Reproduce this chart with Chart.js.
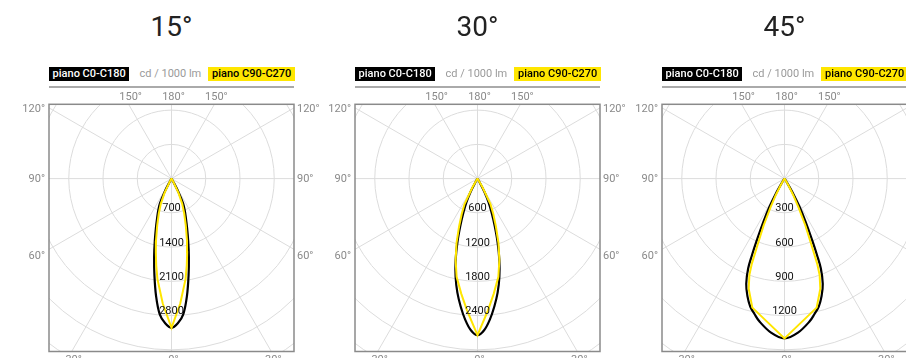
<!DOCTYPE html>
<html><head><meta charset="utf-8">
<script src="https://cdn.jsdelivr.net/npm/chart.js@4.4.1/dist/chart.umd.min.js"></script>
<style>
html,body{margin:0;padding:0;background:#fff;}
body{width:906px;height:358px;overflow:hidden;position:relative;font-family:Roboto,"DejaVu Sans",sans-serif;}
.cell{position:absolute;top:0;width:340px;height:358px;}
.cell canvas{position:absolute;left:0;top:0;}
.title{position:absolute;top:9px;left:49px;width:245px;text-align:center;font-size:28px;line-height:36px;color:#222;}
.hdr{position:absolute;top:66.7px;height:14.5px;line-height:14.5px;font-size:11px;font-weight:500;white-space:nowrap;}
.hb{left:49px;background:#000;color:#fff;padding:0 3.6px;}
.hu{left:139.5px;color:#9a9a9a;font-weight:400;}
.hy{left:208px;background:#ffe600;color:#000;padding:0 4px;}
.rule{position:absolute;left:49px;width:245px;top:86px;height:1.5px;background:#aaa;}
</style></head>
<body>
<script>
// ---- data ----
const titles = ['15°', '30°', '45°'];
const unitLabel = 'cd / 1000 lm';
const planeC0 = 'piano C0-C180';
const planeC90 = 'piano C90-C270';
const ringSteps = [700, 600, 300];
const ringTicks15 = [700, 1400, 2100, 2800];
const ringTicks30 = [600, 1200, 1800, 2400];
const ringTicks45 = [300, 600, 900, 1200];
const angleTicks = [0, 30, 60, 90, 120, 150, 180];

// 15°
const gammaC0_15 = [0, 2.5, 5, 7.5, 10, 12.5, 15, 17.5, 20, 22.5, 25, 27.5, 30, 35];
const cdC0_15    = [3050, 2960, 2780, 2420, 2010, 1640, 1320, 1060, 860, 710, 560, 300, 60, 0];
const gammaC90_15 = [0, 4, 8, 10, 12, 14, 17, 20, 23, 26, 29, 32];
const cdC90_15    = [3050, 2560, 2070, 1800, 1540, 1310, 1000, 760, 560, 330, 80, 0];
// 30°
const gammaC0_30 = [0, 2.5, 5, 7.5, 10, 12.5, 15, 17.5, 20, 22.5, 25, 27.5, 30, 33];
const cdC0_30    = [2745, 2660, 2480, 2260, 2030, 1770, 1480, 1170, 880, 650, 460, 260, 60, 0];
const gammaC90_30 = [0, 4.5, 8, 12, 15, 18, 21, 24, 27, 30, 33];
const cdC90_30    = [2745, 2320, 2040, 1760, 1480, 1190, 900, 680, 500, 170, 0];
// 45°
const gammaC0_45 = [0, 5, 10, 12.5, 15, 17.5, 20, 22, 23, 24, 26, 28, 30, 33, 36];
const cdC0_45    = [1400, 1355, 1270, 1215, 1160, 1080, 980, 850, 730, 610, 420, 280, 150, 30, 0];
const gammaC90_45 = [0, 14, 18, 20, 21, 22, 24, 26, 28, 30, 33];
const cdC90_45    = [1400, 1165, 1015, 900, 800, 640, 450, 280, 160, 70, 0];

const panels = [
  {title: titles[0], step: ringSteps[0], ticks: ringTicks15, g0: gammaC0_15, c0: cdC0_15, g90: gammaC90_15, c90: cdC90_15},
  {title: titles[1], step: ringSteps[1], ticks: ringTicks30, g0: gammaC0_30, c0: cdC0_30, g90: gammaC90_30, c90: cdC90_30},
  {title: titles[2], step: ringSteps[2], ticks: ringTicks45, g0: gammaC0_45, c0: cdC0_45, g90: gammaC90_45, c90: cdC90_45}
];

// polar (gamma from nadir, intensity) -> symmetric closed curve in x/y
function curve(gammas, cds) {
  const pts = [];
  const rad = d => d * Math.PI / 180;
  for (let i = gammas.length - 1; i >= 0; i--) pts.push({x: -cds[i] * Math.sin(rad(gammas[i])), y: -cds[i] * Math.cos(rad(gammas[i]))});
  for (let i = 1; i < gammas.length; i++) pts.push({x: cds[i] * Math.sin(rad(gammas[i])), y: -cds[i] * Math.cos(rad(gammas[i]))});
  return pts;
}

const polarGrid = {
  id: 'polarGrid',
  beforeDatasetsDraw(chart, args, opts) {
    const {ctx, chartArea: a, scales: {x, y}} = chart;
    const cx = x.getPixelForValue(0), cy = y.getPixelForValue(0);
    const R = x.getPixelForValue(opts.step) - cx;
    ctx.save();
    ctx.beginPath(); ctx.rect(a.left, a.top, a.right - a.left, a.bottom - a.top); ctx.clip();
    ctx.strokeStyle = '#dcdcdc'; ctx.lineWidth = 1;
    for (let k = 1; k <= 7; k++) { ctx.beginPath(); ctx.arc(cx, cy, k * R, 0, Math.PI * 2); ctx.stroke(); }
    for (let d = 0; d < 360; d += 30) {
      const t = d * Math.PI / 180;
      ctx.beginPath(); ctx.moveTo(cx, cy); ctx.lineTo(cx + Math.sin(t) * 1000, cy + Math.cos(t) * 1000); ctx.stroke();
    }
    ctx.restore();
  },
  afterDatasetsDraw(chart, args, opts) {
    const {ctx, chartArea: a, scales: {x, y}} = chart;
    const cx = x.getPixelForValue(0), cy = y.getPixelForValue(0);
    ctx.save();
    ctx.font = '11px Roboto';
    ctx.fillStyle = '#111';
    ctx.textAlign = 'center';
    ctx.textBaseline = 'alphabetic';
    opts.ticks.forEach(v => {
      ctx.fillText(String(v), cx, y.getPixelForValue(-v) - 1.5);
    });
    ctx.strokeStyle = '#8a8a8a'; ctx.lineWidth = 1.5;
    ctx.strokeRect(a.left, a.top, a.right - a.left, a.bottom - a.top);
    ctx.fillStyle = '#8a8a8a';
    ctx.font = '11px Roboto';
    angleTicks.forEach(deg => {
      const t = deg * Math.PI / 180;
      const sides = (deg === 0 || deg === 180) ? [1] : [-1, 1];
      sides.forEach(s => {
        const sn = Math.sin(t), cs = Math.cos(t);
        const tx = sn > 1e-6 ? (s > 0 ? a.right - cx : cx - a.left) / sn : Infinity;
        const ty = cs > 1e-6 ? (a.bottom - cy) / cs : (cs < -1e-6 ? (a.top - cy) / cs : Infinity);
        const label = deg + '°';
        if (tx < ty) {
          const py = cy + tx * cs + (deg < 90 ? 7 : 1);
          ctx.textBaseline = 'middle';
          if (s < 0) { ctx.textAlign = 'right'; ctx.fillText(label, a.left - 4, py); }
          else { ctx.textAlign = 'left'; ctx.fillText(label, a.right + 3, py); }
        } else {
          const px = cx + s * ty * sn + 2;
          ctx.textAlign = 'center';
          if (cs < 0) { ctx.textBaseline = 'middle'; ctx.fillText(label, px, a.top - 7.5); }
          else { ctx.textBaseline = 'top'; ctx.fillText(label, px, a.bottom + 3); }
        }
      });
    });
    ctx.restore();
  }
};

const cellLefts = [0, 306, 613];
panels.forEach((p, i) => {
  const cell = document.createElement('div');
  cell.className = 'cell';
  cell.style.left = cellLefts[i] + 'px';
  cell.innerHTML =
    '<div class="title">' + p.title + '</div>' +
    '<div class="hdr hb">' + planeC0 + '</div>' +
    '<div class="hdr hu">' + unitLabel + '</div>' +
    '<div class="hdr hy">' + planeC90 + '</div>' +
    '<div class="rule"></div>';
  const cv = document.createElement('canvas');
  cv.width = 340; cv.height = 358;
  cell.appendChild(cv);
  document.body.appendChild(cell);
  const st = p.step;
  new Chart(cv, {
    type: 'scatter',
    data: {
      datasets: [
        {label: planeC90, data: curve(p.g90, p.c90), showLine: true, borderColor: '#ffe600', borderWidth: 2, pointRadius: 0, tension: 0, order: 0},
        {label: planeC0, data: curve(p.g0, p.c0), showLine: true, borderColor: '#000', borderWidth: 2.2, pointRadius: 0, tension: 0.35, order: 1}
      ]
    },
    options: {
      responsive: false, animation: false, events: [],
      layout: {padding: {left: 49, right: 46, top: 104.3, bottom: 6.5}},
      scales: {
        x: {type: 'linear', display: false, min: -3.577 * st, max: 3.577 * st},
        y: {type: 'linear', display: false, min: -5.05 * st, max: 2.17 * st}
      },
      plugins: {legend: {display: false}, tooltip: {enabled: false}, polarGrid: {step: st, ticks: p.ticks}}
    },
    plugins: [polarGrid]
  });
});
</script>
</body></html>
